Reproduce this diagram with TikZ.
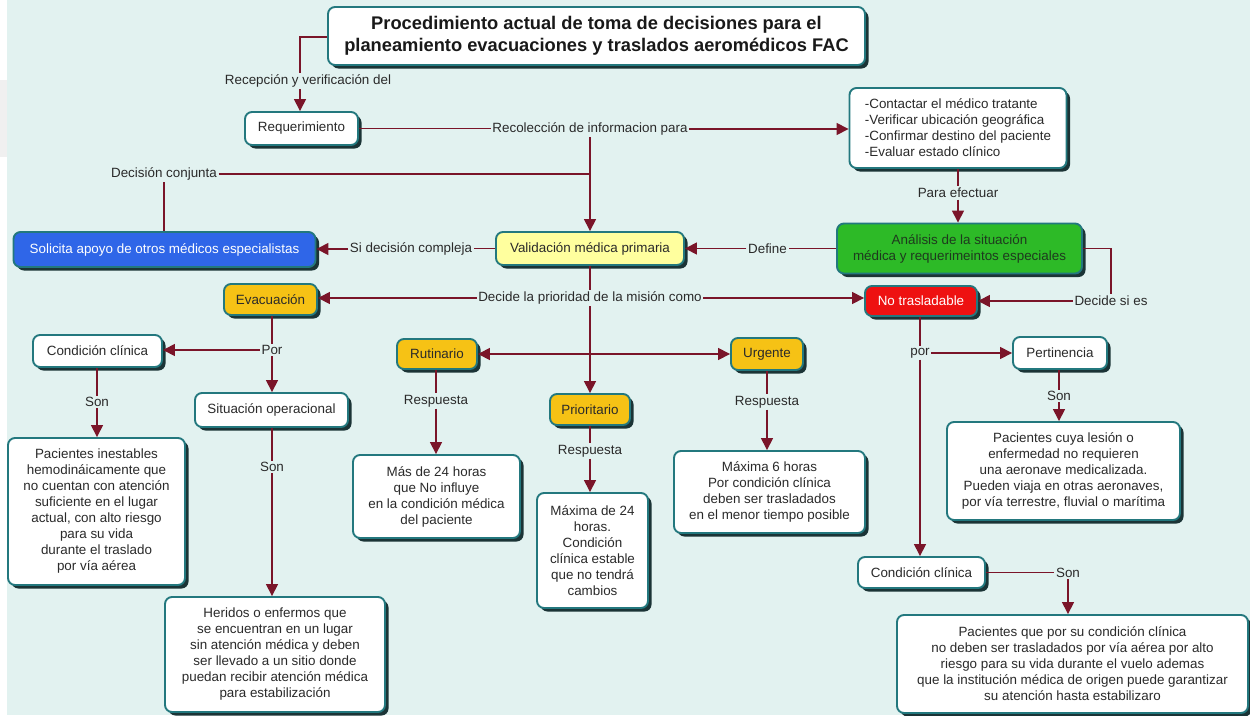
\documentclass[tikz,border=0pt]{standalone}
\usepackage{fontspec}
\setmainfont{Liberation Sans}
\usetikzlibrary{arrows.meta,shadows,calc}

\definecolor{bgmint}{HTML}{E2F2F0}
\definecolor{edgeteal}{HTML}{23787E}
\definecolor{shade}{HTML}{1B3436}
\definecolor{wire}{HTML}{7A1529}
\definecolor{ink}{HTML}{2A2A2A}
\definecolor{fillblue}{HTML}{2F66E8}
\definecolor{fillgreen}{HTML}{2DBA27}
\definecolor{fillgold}{HTML}{F6C215}
\definecolor{fillred}{HTML}{EE1111}
\definecolor{fillpale}{HTML}{FFFF9E}
\definecolor{greentext}{HTML}{1E3A1E}

\tikzset{
  box/.style={draw=edgeteal, line width=1.9pt, rounded corners=7pt, fill=white,
    text=ink, align=center, inner sep=2pt,
    font=\fontsize{13.4}{16}\selectfont,
    drop shadow={shadow xshift=3.5pt, shadow yshift=-3.5pt, fill=shade, opacity=1}},
  lbl/.style={text=ink, font=\fontsize{13.4}{16}\selectfont, inner sep=1.5pt},
  wirel/.style={draw=wire, line width=1.5pt},
  arr/.style={wirel, -{Triangle[length=12pt,width=12pt]}},
}

\begin{document}
\begin{tikzpicture}[x=1pt,y=-1pt]
  \useasboundingbox (0,0) rectangle (1250,715);
  % page background
  \fill[white] (0,0) rectangle (1250,715);
  \fill[bgmint] (7,0) rectangle (1250,715);
  \fill[black!6] (0,80) rectangle (7,157);

  % boxes
  \node[box, minimum width=537pt, minimum height=58pt, text=black!90,
        font=\bfseries\fontsize{18.3}{22}\selectfont] (title) at (596.5,36)
    {Procedimiento actual de toma de decisiones para el\\planeamiento evacuaciones y traslados aeromédicos FAC};
  \node[box, minimum width=113pt, minimum height=33pt] (req) at (301.5,128.5) {Requerimiento};
  \node[box, minimum width=217pt, minimum height=80pt, align=left] (list) at (958,128)
    {-Contactar el médico tratante\\-Verificar ubicación geográfica\\-Confirmar destino del paciente\\-Evaluar estado clínico};
  \node[box, fill=fillgreen, text=greentext, minimum width=245pt, minimum height=50pt] (ana) at (959.5,248.5)
    {Análisis de la situación\\médica y requerimeintos especiales};
  \node[box, fill=fillpale, minimum width=188pt, minimum height=33pt] (val) at (590,248.5) {Validación médica primaria};
  \node[box, fill=fillblue, text=white, minimum width=302pt, minimum height=35pt] (sol) at (164.5,249.5)
    {Solicita apoyo de otros médicos especialistas};
  \node[box, fill=fillgold, minimum width=93pt, minimum height=31pt] (evac) at (270.5,299.5) {Evacuación};
  \node[box, fill=fillred, text=white, minimum width=112pt, minimum height=30pt] (notr) at (921,301) {No trasladable};
  \node[box, minimum width=129pt, minimum height=32pt] (condL) at (97.5,351) {Condición clínica};
  \node[box, minimum width=177pt, minimum height=147pt] (pacA) at (96.5,511.5)
    {Pacientes inestables\\hemodináicamente que\\no cuentan con atención\\suficiente en el lugar\\actual, con alto riesgo\\para su vida\\durante el traslado\\por vía aérea};
  \node[box, minimum width=153pt, minimum height=34pt] (sit) at (271.5,410) {Situación operacional};
  \node[box, minimum width=220pt, minimum height=115pt] (her) at (275,654.5)
    {Heridos o enfermos que\\se encuentran en un lugar\\sin atención médica y deben\\ser llevado a un sitio donde\\puedan recibir atención médica\\para estabilización};
  \node[box, fill=fillgold, minimum width=80pt, minimum height=30pt] (rut) at (437,354) {Rutinario};
  \node[box, minimum width=167pt, minimum height=83pt] (mas) at (436.5,496.5)
    {Más de 24 horas\\que No influye\\en la condición médica\\del paciente};
  \node[box, fill=fillgold, minimum width=80pt, minimum height=31pt] (prio) at (590,409.5) {Prioritario};
  \node[box, minimum width=111pt, minimum height=115pt] (max24) at (592.5,550.5)
    {Máxima de 24\\horas.\\Condición\\clínica estable\\que no tendrá\\cambios};
  \node[box, fill=fillgold, minimum width=72pt, minimum height=32pt] (urg) at (767,354) {Urgente};
  \node[box, minimum width=191pt, minimum height=82pt] (max6) at (769.5,492)
    {Máxima 6 horas\\Por condición clínica\\deben ser trasladados\\en el menor tiempo posible};
  \node[box, minimum width=94pt, minimum height=32pt] (pert) at (1060,353) {Pertinencia};
  \node[box, minimum width=233pt, minimum height=98pt] (pacB) at (1063.5,471)
    {Pacientes cuya lesión o\\enfermedad no requieren\\una aeronave medicalizada.\\Pueden viaja en otras aeronaves,\\por vía terrestre, fluvial o marítima};
  \node[box, minimum width=127pt, minimum height=31pt] (condR) at (921.5,572.5) {Condición clínica};
  \node[box, minimum width=351pt, minimum height=98pt] (pacC) at (1072.5,664)
    {Pacientes que por su condición clínica\\no deben ser trasladados por vía aérea por alto\\riesgo para su vida durante el vuelo ademas\\que la institución médica de origen puede garantizar\\su atención hasta estabilizaro};

  % connector labels
  \node[lbl] (recep) at (308,81) {Recepción y verificación del};
  \node[lbl] (recol) at (590,129) {Recolección de informacion para};
  \node[lbl] (conj) at (164,174) {Decisión conjunta};
  \node[lbl] (efect) at (958,193) {Para efectuar};
  \node[lbl] (defi) at (767.5,248.5) {Define};
  \node[lbl] (sidec) at (411,249) {Si decisión compleja};
  \node[lbl] (prior) at (590,298) {Decide la prioridad de la misión como};
  \node[lbl] (desi) at (1111,301) {Decide si es};
  \node[lbl] (por1) at (272,350) {Por};
  \node[lbl] (son1) at (97,402) {Son};
  \node[lbl] (son2) at (272,467) {Son};
  \node[lbl] (resp1) at (436,401) {Respuesta};
  \node[lbl] (resp2) at (590,451) {Respuesta};
  \node[lbl] (resp3) at (767,402) {Respuesta};
  \node[lbl] (por2) at (920,353) {por};
  \node[lbl] (son3) at (1059,396) {Son};
  \node[lbl] (son4) at (1068,573) {Son};

  % connectors
  \coordinate (bend1) at (300,37);
  \draw[wirel] (title.west |- bend1) -- (bend1) -- (bend1 |- recep.north);
  \draw[arr] (bend1 |- recep.south) -- (bend1 |- req.north);

  \draw[wirel] (req.east) -- (req.east -| recol.west);
  \draw[arr] (recol.east) -- (recol.east -| list.west);
  \draw[arr] (recol.south) -- (recol.south |- val.north);

  \coordinate (join1) at (590,174);
  \draw[wirel] (conj.south) -- (conj.south |- sol.north);
  \draw[wirel] (conj.east) -- (join1);

  \draw[wirel] (list.south) -- (efect.north);
  \draw[arr] (efect.south) -- (efect.south |- ana.north);
  \draw[wirel] (ana.west) -- (ana.west -| defi.east);
  \draw[arr] (defi.west) -- (defi.west -| val.east);
  \draw[wirel] (val.west) -- (val.west -| sidec.east);
  \draw[arr] (sidec.west) -- (sidec.west -| sol.east);

  \draw[wirel] (val.south) -- (val.south |- prior.north);
  \draw[arr] (prior.west) -- (prior.west -| evac.east);
  \draw[arr] (prior.east) -- (prior.east -| notr.west);
  \draw[arr] (prior.south) -- (prior.south |- prio.north);
  \coordinate (hub) at (590,354);
  \draw[arr] (hub) -- (hub -| rut.east);
  \draw[arr] (hub) -- (hub -| urg.west);

  \draw[wirel] (ana.east) -| (desi.north);
  \draw[arr] (desi.west) -- (desi.west -| notr.east);

  \draw[wirel] (evac.south -| por1) -- (por1.north);
  \draw[arr] (por1.west) -- (por1.west -| condL.east);
  \draw[arr] (por1.south) -- (por1.south |- sit.north);
  \draw[wirel] (condL.south -| son1) -- (son1.north);
  \draw[arr] (son1.south) -- (son1.south |- pacA.north);
  \draw[wirel] (sit.south -| son2) -- (son2.north);
  \draw[arr] (son2.south) -- (son2.south |- her.north);

  \draw[wirel] (rut.south -| resp1) -- (resp1.north);
  \draw[arr] (resp1.south) -- (resp1.south |- mas.north);
  \draw[wirel] (prio.south) -- (prio.south |- resp2.north);
  \draw[arr] (resp2.south) -- (resp2.south |- max24.north);
  \draw[wirel] (urg.south -| resp3) -- (resp3.north);
  \draw[arr] (resp3.south) -- (resp3.south |- max6.north);

  \draw[wirel] (notr.south -| por2) -- (por2.north);
  \draw[arr] (por2.east) -- (por2.east -| pert.west);
  \draw[arr] (por2.south) -- (por2.south |- condR.north);
  \draw[wirel] (pert.south -| son3) -- (son3.north);
  \draw[arr] (son3.south) -- (son3.south |- pacB.north);
  \draw[wirel] (condR.east) -- (condR.east -| son4.west);
  \draw[arr] (son4.south) -- (son4.south |- pacC.north);
\end{tikzpicture}
\end{document}
